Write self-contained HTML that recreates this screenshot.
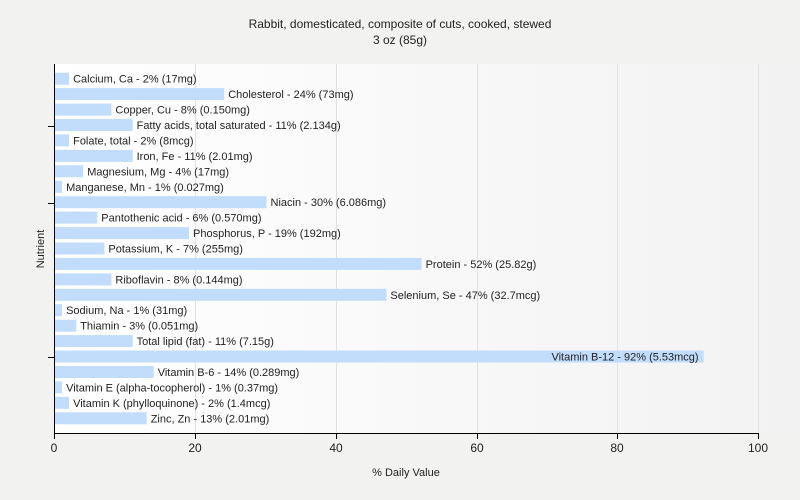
<!DOCTYPE html>
<html><head><meta charset="utf-8"><style>
html,body{margin:0;padding:0;background:#f2f2f1;}
svg{display:block;font-family:"Liberation Sans",sans-serif;}
</style></head><body>
<svg width="800" height="500" viewBox="0 0 800 500" xmlns="http://www.w3.org/2000/svg">
<defs><linearGradient id="g" x1="0" x2="1" y1="0" y2="0"><stop offset="0" stop-color="#ffffff"/><stop offset="1" stop-color="#f2f2f2"/></linearGradient></defs>
<rect x="0" y="0" width="800" height="500" fill="#f2f2f1"/>
<rect x="54" y="64" width="746" height="370" fill="url(#g)"/>
<g stroke="#e2e2e2" stroke-width="1">
<line x1="195.5" y1="64" x2="195.5" y2="433"/><line x1="336.5" y1="64" x2="336.5" y2="433"/><line x1="477.5" y1="64" x2="477.5" y2="433"/><line x1="617.5" y1="64" x2="617.5" y2="433"/><line x1="758.5" y1="64" x2="758.5" y2="433"/>
</g>
<text x="400" y="28" text-anchor="middle" font-size="12" fill="#222">Rabbit, domesticated, composite of cuts, cooked, stewed</text>
<text x="400" y="44" text-anchor="middle" font-size="12" fill="#222">3 oz (85g)</text>
<g fill="#c2dcfc">
<rect x="55" y="72.7" width="14.1" height="12"/>
<rect x="55" y="88.1" width="169.2" height="12"/>
<rect x="55" y="103.6" width="56.4" height="12"/>
<rect x="55" y="119.0" width="77.6" height="12"/>
<rect x="55" y="134.4" width="14.1" height="12"/>
<rect x="55" y="149.9" width="77.6" height="12"/>
<rect x="55" y="165.3" width="28.2" height="12"/>
<rect x="55" y="180.8" width="7.05" height="12"/>
<rect x="55" y="196.2" width="211.5" height="12"/>
<rect x="55" y="211.6" width="42.3" height="12"/>
<rect x="55" y="227.1" width="134" height="12"/>
<rect x="55" y="242.5" width="49.4" height="12"/>
<rect x="55" y="257.9" width="366.6" height="12"/>
<rect x="55" y="273.4" width="56.4" height="12"/>
<rect x="55" y="288.8" width="331.4" height="12"/>
<rect x="55" y="304.2" width="7.05" height="12"/>
<rect x="55" y="319.7" width="21.2" height="12"/>
<rect x="55" y="335.1" width="77.6" height="12"/>
<rect x="55" y="350.5" width="648.6" height="12"/>
<rect x="55" y="366.0" width="98.7" height="12"/>
<rect x="55" y="381.4" width="7.05" height="12"/>
<rect x="55" y="396.8" width="14.1" height="12"/>
<rect x="55" y="412.3" width="91.7" height="12"/>
</g>
<g font-size="11" fill="#222">
<text x="73.1" y="82.7">Calcium, Ca - 2% (17mg)</text>
<text x="228.2" y="98.1">Cholesterol - 24% (73mg)</text>
<text x="115.4" y="113.6">Copper, Cu - 8% (0.150mg)</text>
<text x="136.6" y="129.0">Fatty acids, total saturated - 11% (2.134g)</text>
<text x="73.1" y="144.4">Folate, total - 2% (8mcg)</text>
<text x="136.6" y="159.9">Iron, Fe - 11% (2.01mg)</text>
<text x="87.2" y="175.3">Magnesium, Mg - 4% (17mg)</text>
<text x="66.1" y="190.8">Manganese, Mn - 1% (0.027mg)</text>
<text x="270.5" y="206.2">Niacin - 30% (6.086mg)</text>
<text x="101.3" y="221.6">Pantothenic acid - 6% (0.570mg)</text>
<text x="193" y="237.1">Phosphorus, P - 19% (192mg)</text>
<text x="108.4" y="252.5">Potassium, K - 7% (255mg)</text>
<text x="425.6" y="267.9">Protein - 52% (25.82g)</text>
<text x="115.4" y="283.4">Riboflavin - 8% (0.144mg)</text>
<text x="390.4" y="298.8">Selenium, Se - 47% (32.7mcg)</text>
<text x="66.1" y="314.2">Sodium, Na - 1% (31mg)</text>
<text x="80.2" y="329.7">Thiamin - 3% (0.051mg)</text>
<text x="136.6" y="345.1">Total lipid (fat) - 11% (7.15g)</text>
<text x="698.6" y="360.5" text-anchor="end">Vitamin B-12 - 92% (5.53mcg)</text>
<text x="157.7" y="376.0">Vitamin B-6 - 14% (0.289mg)</text>
<text x="66.1" y="391.4">Vitamin E (alpha-tocopherol) - 1% (0.37mg)</text>
<text x="73.1" y="406.8">Vitamin K (phylloquinone) - 2% (1.4mcg)</text>
<text x="150.7" y="422.3">Zinc, Zn - 13% (2.01mg)</text>
</g>
<g stroke="#000" stroke-width="1">
<line x1="54.5" y1="64" x2="54.5" y2="434"/>
<line x1="54" y1="433.5" x2="759" y2="433.5"/>
<line x1="54.5" y1="433" x2="54.5" y2="439"/><line x1="195.5" y1="433" x2="195.5" y2="439"/><line x1="336.5" y1="433" x2="336.5" y2="439"/><line x1="477.5" y1="433" x2="477.5" y2="439"/><line x1="617.5" y1="433" x2="617.5" y2="439"/><line x1="758.5" y1="433" x2="758.5" y2="439"/>
<line x1="48" y1="126.5" x2="54" y2="126.5"/><line x1="48" y1="203.5" x2="54" y2="203.5"/><line x1="48" y1="357.5" x2="54" y2="357.5"/>
</g>
<g font-size="12" fill="#222" text-anchor="middle">
<text x="54" y="452">0</text><text x="195" y="452">20</text><text x="336" y="452">40</text><text x="477" y="452">60</text><text x="617" y="452">80</text><text x="758" y="452">100</text>
</g>
<text x="406" y="476" text-anchor="middle" font-size="11" fill="#222">% Daily Value</text>
<text transform="translate(44,249) rotate(-90)" text-anchor="middle" font-size="11" fill="#222">Nutrient</text>
</svg>
</body></html>
